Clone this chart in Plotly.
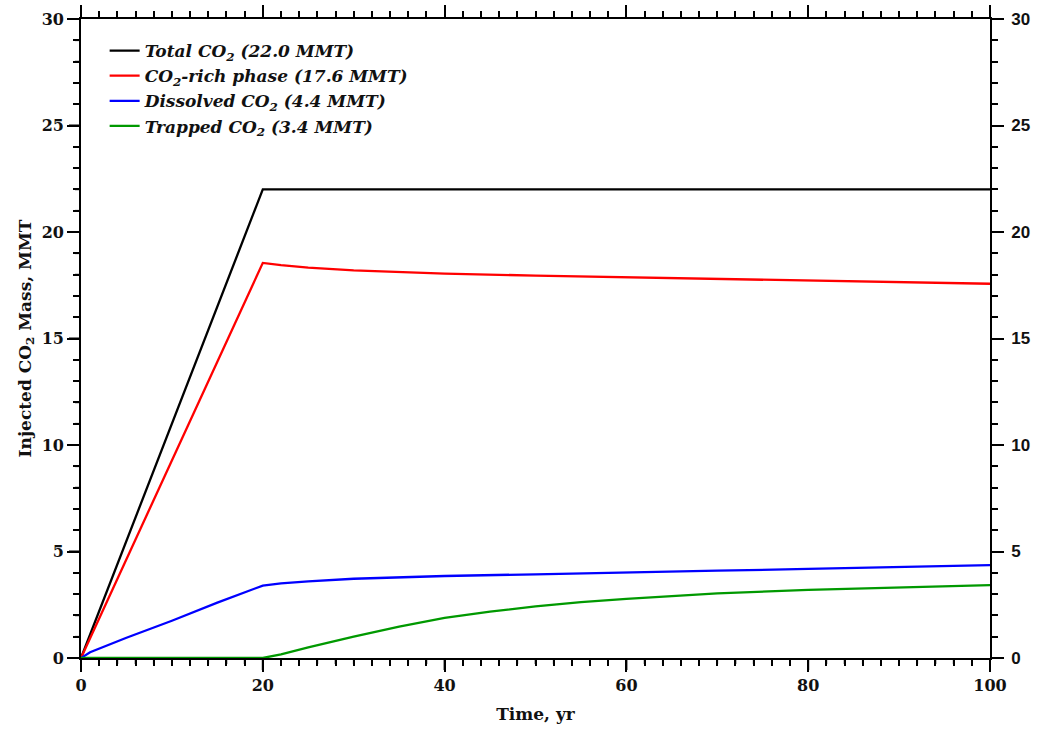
import numpy as np
import plotly.graph_objects as go

# Data
t_total = [0, 20, 100]
total_co2 = [0, 22.0, 22.0]

t_rich = [0, 20, 22, 25, 30, 40, 50, 60, 70, 80, 90, 100]
rich_phase = [0, 18.55, 18.45, 18.33, 18.2, 18.05, 17.95, 17.87, 17.78, 17.7, 17.63, 17.57]

t_diss = [0, 1, 5, 10, 15, 20, 22, 25, 30, 40, 50, 60, 70, 80, 90, 100]
dissolved = [0, 0.27, 0.95, 1.75, 2.6, 3.4, 3.5, 3.6, 3.72, 3.85, 3.93, 4.0, 4.1, 4.18, 4.27, 4.36]

t_trap = [0, 20, 22, 25, 30, 35, 40, 45, 50, 55, 60, 65, 70, 80, 90, 100]
trapped = [0, 0, 0.17, 0.5, 1.0, 1.47, 1.88, 2.18, 2.42, 2.62, 2.78, 2.92, 3.03, 3.2, 3.32, 3.42]

x_range = [0, 100]
y_range = [0, 30]
x_major, x_minor = 20, 2
y_major, y_minor = 5, 1

names = ["Total CO<sub>2</sub> (22.0 MMT)",
         "CO<sub>2</sub>-rich phase (17.6 MMT)",
         "Dissolved CO<sub>2</sub> (4.4 MMT)",
         "Trapped CO<sub>2</sub> (3.4 MMT)"]
colors = ["#000000", "#ff0000", "#0000ff", "#009900"]

SERIF = "DejaVu Serif"
TXT = "#111111"
AX = "#000000"

fig = go.Figure()
for x, y, n, c in zip([t_total, t_rich, t_diss, t_trap],
                      [total_co2, rich_phase, dissolved, trapped], names, colors):
    fig.add_trace(go.Scatter(x=x, y=y, mode="lines", name=n,
                             line=dict(color=c, width=2.3)))
# invisible trace that makes the top / right axes render
fig.add_trace(go.Scatter(x=x_range, y=y_range, xaxis="x2", yaxis="y2", mode="lines",
                         line=dict(width=0), showlegend=False, hoverinfo="skip",
                         opacity=0))

axis_common = dict(showgrid=False, zeroline=False, showline=True,
                   linecolor=AX, linewidth=1.6, ticks="outside",
                   tickcolor=AX, tickwidth=2, ticklen=12,
                   automargin=False, mirror="ticks")
minor_x = dict(dtick=x_minor, ticks="outside", ticklen=6, tickcolor=AX, tickwidth=1.6)
minor_y = dict(dtick=y_minor, ticks="outside", ticklen=6, tickcolor=AX, tickwidth=1.6)

# outward tick marks on the bottom and left edges, placed on the data axes
shapes = []
for v in np.arange(x_range[0], x_range[1] + 1e-9, x_minor):
    L = 12 if abs(v % x_major) < 1e-9 else 6
    W = 2 if L == 12 else 1.6
    shapes.append(dict(type="line", xref="x", yref="paper", ysizemode="pixel",
                       yanchor=0, x0=v, x1=v, y0=0, y1=-L, layer="above",
                       line=dict(color=AX, width=W)))
for v in np.arange(y_range[0], y_range[1] + 1e-9, y_minor):
    L = 12 if abs(v % y_major) < 1e-9 else 6
    W = 2 if L == 12 else 1.6
    shapes.append(dict(type="line", xref="paper", yref="y", xsizemode="pixel",
                       xanchor=0, x0=0, x1=-L, y0=v, y1=v, layer="above",
                       line=dict(color=AX, width=W)))

fig.update_layout(
    width=1039, height=733,
    margin=dict(l=81, r=49, t=19, b=75),
    paper_bgcolor="white", plot_bgcolor="white",
    showlegend=True,
    shapes=shapes,
    font=dict(family=SERIF, color=TXT),
    legend=dict(x=0.026, y=0.978, xanchor="left", yanchor="top",
                bgcolor="rgba(0,0,0,0)",
                font=dict(family=SERIF, size=17, color=TXT, weight="bold", style="italic"),
                itemwidth=30, tracegroupgap=0),
    xaxis=dict(range=x_range, tick0=0, dtick=x_major, minor=minor_x,
               tickfont=dict(family=SERIF, size=16, color=TXT, weight="bold"),
               title=dict(text="Time, yr", standoff=14,
                          font=dict(family=SERIF, size=17, color=TXT, weight="bold")),
               **axis_common),
    xaxis2=dict(range=x_range, tick0=0, dtick=x_major, minor=minor_x,
                overlaying="x", side="top", showticklabels=False,
                **axis_common),
    yaxis=dict(range=y_range, tick0=0, dtick=y_major, minor=minor_y,
               tickfont=dict(family=SERIF, size=16, color=TXT, weight="bold"),
               title=dict(text="Injected CO<sub>2</sub> Mass, MMT", standoff=6,
                          font=dict(family=SERIF, size=17, color=TXT, weight="bold")),
               **axis_common),
    yaxis2=dict(range=y_range, tick0=0, dtick=y_major, minor=minor_y,
                overlaying="y", side="right", ticklabelstandoff=4,
                tickfont=dict(family="Liberation Sans", size=17, color=TXT, weight="bold"),
                **axis_common),
)

fig.write_html("out.html")
